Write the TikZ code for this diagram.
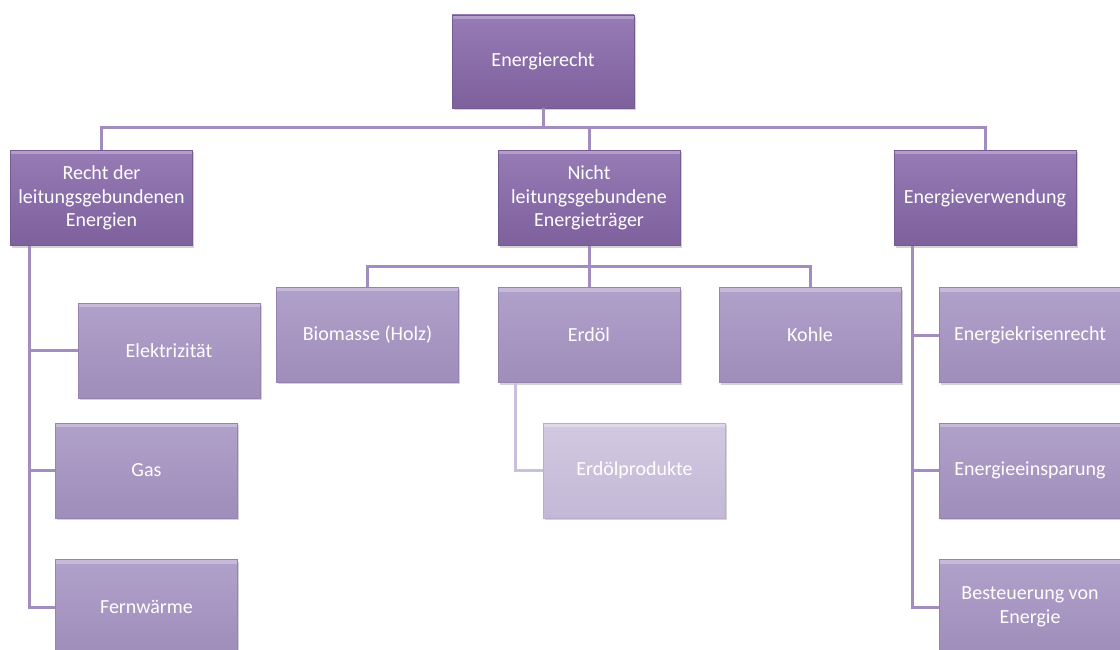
\documentclass[tikz,border=0pt]{standalone}
\usepackage{fontspec}
\setmainfont{Carlito}
\usetikzlibrary{shadows}
\definecolor{dkTop}{HTML}{967BB5}
\definecolor{dkBot}{HTML}{7D609C}
\definecolor{dkLine}{HTML}{755A94}
\definecolor{mdTop}{HTML}{B0A1CA}
\definecolor{mdBot}{HTML}{9F8DBA}
\definecolor{mdLine}{HTML}{9583B1}
\definecolor{ltTop}{HTML}{D2C9E1}
\definecolor{ltBot}{HTML}{C3B8D6}
\definecolor{ltLine}{HTML}{B8ADCD}
\definecolor{conn}{HTML}{A28DC1}
\definecolor{connlt}{HTML}{CBC0DC}
\tikzset{
  box/.style={rectangle, minimum width=182pt, minimum height=95pt, inner sep=2pt,
    align=center, text=white, font=\fontsize{20}{23.5}\selectfont,
    line width=0.5pt,
    drop shadow={opacity=0.35, shadow xshift=1.5pt, shadow yshift=-2pt},
    path picture={\fill[white,opacity=0.28] (path picture bounding box.north west) rectangle ([yshift=-4pt]path picture bounding box.north east);}},
  dkbox/.style={box, top color=dkTop, bottom color=dkBot, draw=dkLine},
  mdbox/.style={box, top color=mdTop, bottom color=mdBot, draw=mdLine},
  ltbox/.style={box, top color=ltTop, bottom color=ltBot, draw=ltLine},
  link/.style={draw=conn, line width=3pt},
  linklt/.style={draw=connlt, line width=3pt}
}
\begin{document}
\begin{tikzpicture}[x=1pt,y=-1pt]
\useasboundingbox (0,0) rectangle (1120,650);
% nodes
\node[dkbox, minimum height=93pt] (E) at (543,61.5) {Energierecht};
\node[dkbox] (R) at (101.5,198) {Recht der\\leitungsgebundenen\\Energien};
\node[dkbox] (N) at (589,198) {Nicht\\leitungsgebundene\\Energieträger};
\node[dkbox] (V) at (985,198) {Energieverwendung};
\node[mdbox] (Bio) at (367.5,334.5) {Biomasse (Holz)};
\node[mdbox] (Erd) at (589,335) {Erdöl};
\node[mdbox] (Kohle) at (810,335) {Kohle};
\node[ltbox] (Prod) at (634.5,470.5) {Erdölprodukte};
\node[mdbox] (Elek) at (169,350.5) {Elektrizität};
\node[mdbox] (Gas) at (146.5,470.5) {Gas};
\node[mdbox] (Fern) at (146.5,607) {Fernwärme};
\node[mdbox] (Kris) at (1030,335) {Energiekrisenrecht};
\node[mdbox] (Einsp) at (1030,470.5) {Energieeinsparung};
\node[mdbox] (Steu) at (1030,607) {Besteuerung von\\Energie};
% connectors
\draw[link] (E.south) -- (E.south |- 0,128) -| (R.north);
\draw[link] (E.south) -- (E.south |- 0,128) -| (N.north);
\draw[link] (E.south) -- (E.south |- 0,128) -| (V.north);
\draw[link] (N.south) -- (N.south |- 0,266) -| (Bio.north);
\draw[link] (N.south) -- (N.south |- 0,266) -| (Erd.north);
\draw[link] (N.south) -- (N.south |- 0,266) -| (Kohle.north);
\draw[link] ([xshift=19pt]R.south west) |- (Elek.west);
\draw[link] ([xshift=19pt]R.south west) |- (Gas.west);
\draw[link] ([xshift=19pt]R.south west) |- (Fern.west);
\draw[linklt] ([xshift=18pt]Erd.south west) |- (Prod.west);
\draw[link] ([xshift=18.5pt]V.south west) |- (Kris.west);
\draw[link] ([xshift=18.5pt]V.south west) |- (Einsp.west);
\draw[link] ([xshift=18.5pt]V.south west) |- (Steu.west);
\end{tikzpicture}
\end{document}
